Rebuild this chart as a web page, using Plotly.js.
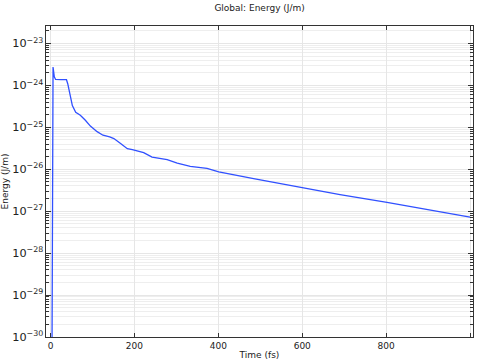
<!DOCTYPE html>
<html>
<head>
<meta charset="utf-8">
<script src="https://cdn.plot.ly/plotly-3.0.1.min.js"></script>
<style>html,body{margin:0;padding:0;background:#fff;}#chart{width:488px;height:363px;}</style>
</head>
<body>
<div id="chart"></div>
<script>
// Time (fs)
const timeFs = [0, 3.5, 6, 9, 12, 25, 38, 41, 46, 52, 60, 71, 83, 95, 111, 125, 141, 151, 167, 183, 195, 206, 222, 242, 260, 278, 302, 333, 373, 401, 484, 603, 690, 802, 900, 1000];
// Energy (J/m)
const energy = [1e-40, 1e-28, 2.75e-24, 1.6e-24, 1.39e-24, 1.38e-24, 1.37e-24, 1.1e-24, 5.8e-25, 3.3e-25, 2.3e-25, 1.95e-25, 1.48e-25, 1.07e-25, 7.9e-26, 6.5e-26, 5.9e-26, 5.4e-26, 4.1e-26, 3.1e-26, 2.95e-26, 2.8e-26, 2.5e-26, 1.95e-26, 1.8e-26, 1.7e-26, 1.41e-26, 1.17e-26, 1.05e-26, 8.7e-27, 6.0e-27, 3.6e-27, 2.5e-27, 1.62e-27, 1.1e-27, 7.2e-28];
// x tick values and labels (the 1000 tick carries no label in the reference)
const xTickVals = [0, 200, 400, 600, 800, 1000];
const xTickText = ["0", "200", "400", "600", "800", ""];

const titleText = "Global: Energy (J/m)";
const xTitle = "Time (fs)";
const yTitle = "Energy (J/m)";

const fam = "DejaVu Sans, Verdana, sans-serif";
const txt = {family: fam, size: 9, color: "#222"};
const grid = "#e6e6e6";

Plotly.newPlot("chart", [{
  x: timeFs, y: energy, type: "scatter", mode: "lines",
  line: {color: "#3050ff", width: 1.3}, hoverinfo: "none"
}], {
  width: 488, height: 363,
  margin: {l: 45.5, r: 15, t: 25.5, b: 26, pad: 0},
  paper_bgcolor: "#fff", plot_bgcolor: "#fff",
  font: txt,
  showlegend: false,
  title: {text: titleText, x: 0.532, xanchor: "center", y: 0.988, yanchor: "top", font: txt},
  xaxis: {
    range: [-10.8, 1007], tickmode: "array", tickvals: xTickVals, ticktext: xTickText,
    ticks: "inside", ticklen: 4, tickcolor: "#333", tickwidth: 1,
    showline: true, linecolor: "#333", linewidth: 1, mirror: "allticks",
    showgrid: true, gridcolor: grid, gridwidth: 1, zeroline: false,
    tickfont: txt,
    title: {text: xTitle, standoff: 1, font: txt}
  },
  yaxis: {
    type: "log", range: [-30, -22.583], tick0: 0, dtick: 1,
    exponentformat: "power",
    ticks: "inside", ticklen: 5, tickcolor: "#333", tickwidth: 1,
    showline: true, linecolor: "#333", linewidth: 1, mirror: "allticks",
    showgrid: true, gridcolor: grid, gridwidth: 1, zeroline: false,
    tickfont: txt,
    minor: {dtick: "D1", ticks: "inside", ticklen: 3, tickcolor: "#333", showgrid: true, gridcolor: "#eeeeee", gridwidth: 1},
    title: {text: yTitle, standoff: 6, font: txt}
  }
}, {staticPlot: true, displayModeBar: false});
</script>
</body>
</html>
